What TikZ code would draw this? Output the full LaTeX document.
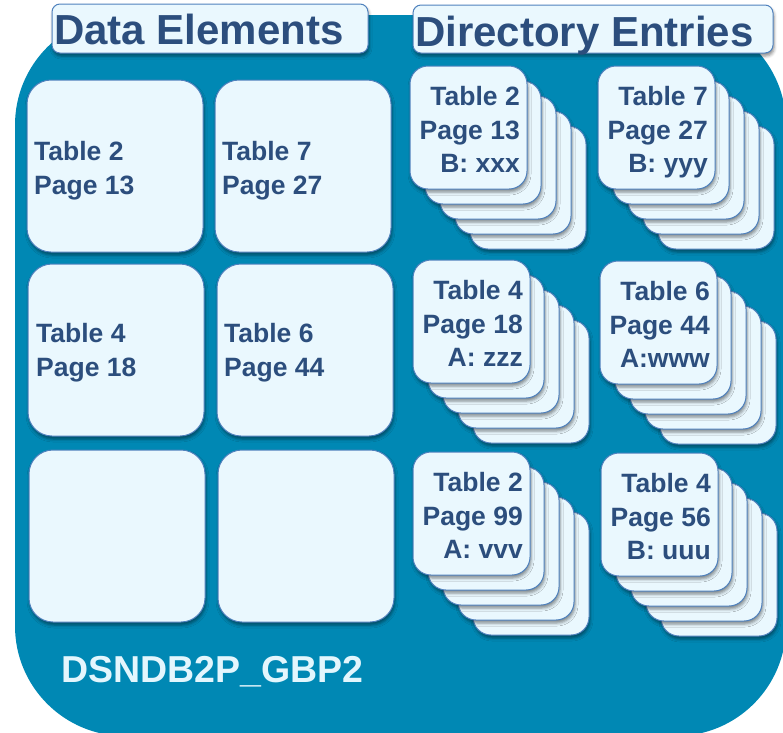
\documentclass[tikz,border=0pt]{standalone}
\usepackage{fontspec}
\setmainfont{Liberation Sans}
\usetikzlibrary{shadows.blur}

\definecolor{poolblue}{RGB}{0,136,180}
\definecolor{boxfill}{RGB}{234,248,254}
\definecolor{boxedge}{RGB}{79,129,189}
\definecolor{inkblue}{RGB}{44,78,125}
\definecolor{palelabel}{RGB}{227,246,253}

\tikzset{
  softshadow/.style={blur shadow={shadow xshift=1pt, shadow yshift=-3pt,
      shadow blur radius=3pt, shadow opacity=45}},
  panel/.style={draw=boxedge, line width=1pt, fill=boxfill, softshadow,
      inner sep=0pt, outer sep=0pt},
  headbox/.style={panel, rounded corners=8pt, anchor=north west},
  elembox/.style={panel, rounded corners=24pt, anchor=north west,
      minimum width=176pt, minimum height=172pt},
  dircard/.style={panel, rounded corners=18pt, anchor=north west,
      minimum width=117pt, minimum height=123pt},
  headtext/.style={inner sep=0pt, anchor=north west, text=inkblue,
      font=\fontsize{42}{48}\selectfont\bfseries},
  elemtext/.style={inner sep=0pt, anchor=north west, align=left, text=inkblue,
      font=\fontsize{26.5}{34}\selectfont\bfseries},
  cardtext/.style={inner sep=0pt, anchor=north east, align=right, text=inkblue,
      font=\fontsize{26.5}{33.5}\selectfont\bfseries},
  pooltext/.style={inner sep=0pt, anchor=north west, text=palelabel,
      font=\fontsize{37.5}{44}\selectfont\bfseries},
}

% a stack of five directory cards; #1 name, (#2,#3) front corner, #4 text
\newcommand\cardstack[4]{%
  \foreach \k in {4,3,2,1}{%
    \node[dircard, minimum width=116pt] (#1-\k) at (#2+15*\k, #3+15*\k) {};
  }
  \node[dircard] (#1-0) at (#2,#3) {};
  \node[cardtext] (#1-t) at (#2+110, #3+20.5) {#4};
}

\begin{document}
\begin{tikzpicture}[x=1pt, y=-1pt]
  \useasboundingbox (0,0) rectangle (783,732);
  \clip (0,0) rectangle (783,732);

  % buffer pool background
  \fill[poolblue, rounded corners=110pt] (15,15) rectangle (786,736);

  % section headers
  \node[headbox, minimum width=316pt, minimum height=49pt] (hdata) at (52,4) {};
  \node[headtext] (hdata-t) at (54,14) {Data Elements};
  \node[headbox, minimum width=360pt, minimum height=48pt] (hdir) at (413,5) {};
  \node[headtext] (hdir-t) at (415,16) {Directory Entries};

  % data element pages
  \node[elembox] (e11) at (27,80) {};
  \node[elembox] (e12) at (215,80) {};
  \node[elembox] (e21) at (28,264) {};
  \node[elembox] (e22) at (217,264) {};
  \node[elembox] (e31) at (29,450) {};
  \node[elembox] (e32) at (218,450) {};
  \node[elemtext] (e11-t) at (34,141) {Table 2\\Page 13};
  \node[elemtext] (e12-t) at (222,141) {Table 7\\Page 27};
  \node[elemtext] (e21-t) at (36,323) {Table 4\\Page 18};
  \node[elemtext] (e22-t) at (224,323) {Table 6\\Page 44};

  % directory entry stacks
  \cardstack{d11}{410}{66}{Table 2\\Page 13\\B: xxx}
  \cardstack{d12}{598}{66}{Table 7\\Page 27\\B: yyy}
  \cardstack{d21}{413}{260}{Table 4\\Page 18\\A: zzz}
  \cardstack{d22}{600}{261}{Table 6\\Page 44\\A:www}
  \cardstack{d31}{413}{452}{Table 2\\Page 99\\A: vvv}
  \cardstack{d32}{601}{453}{Table 4\\Page 56\\B: uuu}

  % buffer pool name
  \node[pooltext] (pool) at (61,656) {DSNDB2P\_GBP2};
\end{tikzpicture}
\end{document}
